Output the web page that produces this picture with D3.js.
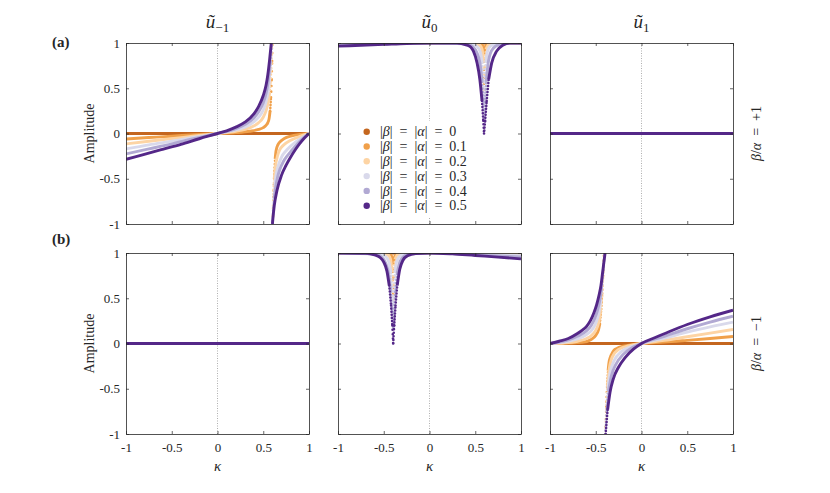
<!DOCTYPE html>
<html>
<head>
<meta charset="utf-8">
<script src="https://cdn.jsdelivr.net/npm/d3@7"></script>
<style>
  body { margin: 0; background: #fff; }
</style>
</head>
<body>
<svg id="chart" width="830" height="493"></svg>
<script>
// |beta| = |alpha| values, one series each
const betas = [0, 0.1, 0.2, 0.3, 0.4, 0.5];
const colSubs = ["\u22121", "0", "1"];
const rowTags = ["(a)", "(b)"];
const rowRatios = ["+1", "\u22121"];
const tickVals = [-1, -0.5, 0, 0.5, 1];

// each series: list of branches, each branch a list of [kappa, amplitude]
const aUm1 = [
  [[[-1, 0], [1, 0]]],
  [[[-1, -0.06], [-0.75, -0.045], [-0.5, -0.03], [-0.25, -0.014], [0, 0], [0.2, 0.01], [0.35, 0.025], [0.45, 0.045], [0.5, 0.065], [0.53, 0.09], [0.55, 0.12], [0.565, 0.17], [0.575, 0.25], [0.585, 0.4], [0.592, 0.6], [0.597, 0.8], [0.6, 1]],
   [[0.605, -1], [0.612, -0.7], [0.62, -0.45], [0.63, -0.28], [0.64, -0.19], [0.66, -0.125], [0.68, -0.095], [0.73, -0.055], [0.8, -0.028], [0.9, -0.01], [1, 0]]],
  [[[-1, -0.115], [-0.75, -0.085], [-0.5, -0.057], [-0.25, -0.028], [0, 0], [0.2, 0.025], [0.3, 0.045], [0.4, 0.085], [0.45, 0.12], [0.5, 0.18], [0.53, 0.25], [0.555, 0.35], [0.57, 0.45], [0.58, 0.57], [0.588, 0.72], [0.594, 0.87], [0.598, 1]],
   [[0.602, -1], [0.607, -0.8], [0.613, -0.62], [0.62, -0.5], [0.635, -0.35], [0.655, -0.25], [0.68, -0.18], [0.72, -0.13], [0.8, -0.075], [0.9, -0.032], [1, 0]]],
  [[[-1, -0.17], [-0.75, -0.125], [-0.5, -0.085], [-0.25, -0.042], [0, 0], [0.2, 0.04], [0.3, 0.07], [0.4, 0.13], [0.45, 0.18], [0.5, 0.26], [0.53, 0.35], [0.555, 0.47], [0.57, 0.6], [0.58, 0.72], [0.588, 0.85], [0.596, 1]],
   [[0.601, -1], [0.607, -0.85], [0.615, -0.7], [0.625, -0.58], [0.64, -0.46], [0.66, -0.37], [0.7, -0.26], [0.75, -0.19], [0.8, -0.14], [0.9, -0.06], [1, 0]]],
  [[[-1, -0.225], [-0.75, -0.17], [-0.5, -0.115], [-0.25, -0.055], [0, 0], [0.2, 0.055], [0.3, 0.1], [0.4, 0.175], [0.45, 0.24], [0.5, 0.34], [0.53, 0.44], [0.55, 0.55], [0.565, 0.67], [0.578, 0.8], [0.585, 0.9], [0.592, 1]],
   [[0.601, -1], [0.61, -0.85], [0.62, -0.72], [0.635, -0.6], [0.655, -0.49], [0.68, -0.4], [0.72, -0.31], [0.76, -0.25], [0.8, -0.2], [0.9, -0.085], [1, 0]]],
  [[[-1, -0.285], [-0.8, -0.23], [-0.6, -0.175], [-0.4, -0.12], [-0.2, -0.058], [0, 0], [0.1, 0.03], [0.2, 0.07], [0.3, 0.125], [0.4, 0.22], [0.45, 0.3], [0.5, 0.42], [0.53, 0.53], [0.55, 0.65], [0.57, 0.82], [0.588, 1]],
   [[0.6, -1], [0.62, -0.8], [0.65, -0.63], [0.7, -0.46], [0.75, -0.35], [0.8, -0.26], [0.85, -0.18], [0.9, -0.11], [0.95, -0.05], [1, 0]]]
];

const aU0 = [
  [[[-1, 1], [1, 1]]],
  [[[-1, 1], [0.5, 1], [0.56, 0.99], [0.583, 0.965], [0.592, 0.88], [0.597, 0.55], [0.602, 0.88], [0.611, 0.965], [0.64, 0.99], [0.7, 1], [1, 1]]],
  [[[-1, 0.995], [0, 1], [0.5, 0.995], [0.55, 0.975], [0.575, 0.93], [0.588, 0.8], [0.597, 0.48], [0.605, 0.8], [0.617, 0.93], [0.645, 0.98], [0.7, 0.995], [0.8, 1], [1, 1]]],
  [[[-1, 0.985], [-0.5, 0.995], [0, 1], [0.45, 0.99], [0.52, 0.96], [0.556, 0.9], [0.577, 0.78], [0.589, 0.58], [0.597, 0.33], [0.604, 0.58], [0.614, 0.78], [0.632, 0.9], [0.67, 0.97], [0.75, 0.995], [0.85, 1], [1, 1]]],
  [[[-1, 0.975], [-0.5, 0.99], [0, 1], [0.4, 0.99], [0.47, 0.96], [0.52, 0.89], [0.553, 0.77], [0.575, 0.57], [0.588, 0.35], [0.597, 0.18], [0.606, 0.35], [0.62, 0.57], [0.64, 0.77], [0.675, 0.91], [0.73, 0.97], [0.8, 0.995], [0.9, 1], [1, 1]]],
  [[[-1, 0.965], [-0.75, 0.975], [-0.5, 0.985], [-0.25, 0.995], [0, 1], [0.3, 1], [0.4, 0.98], [0.45, 0.955], [0.48, 0.91], [0.52, 0.78], [0.55, 0.6], [0.574, 0.36], [0.588, 0.14], [0.596, 0], [0.608, 0.14], [0.625, 0.36], [0.647, 0.6], [0.68, 0.78], [0.734, 0.91], [0.8, 0.975], [0.88, 1], [1, 1]]]
];

const aUp1 = betas.map(() => [[[-1, 0], [1, 0]]]);
const bUm1 = betas.map(() => [[[-1, 0], [1, 0]]]);

const bU0 = [
  [[[-1, 1], [1, 1]]],
  [[[-1, 1], [-0.5, 1], [-0.44, 0.99], [-0.414, 0.965], [-0.403, 0.88], [-0.397, 0.55], [-0.391, 0.88], [-0.38, 0.965], [-0.35, 0.99], [-0.3, 1], [0, 1], [0.3, 0.999], [0.6, 0.997], [1, 0.995]]],
  [[[-1, 1], [-0.5, 0.995], [-0.45, 0.975], [-0.425, 0.93], [-0.41, 0.8], [-0.397, 0.48], [-0.389, 0.8], [-0.377, 0.93], [-0.35, 0.98], [-0.29, 0.995], [-0.2, 1], [0.1, 1], [0.4, 0.996], [0.7, 0.99], [1, 0.985]]],
  [[[-1, 1], [-0.55, 0.99], [-0.48, 0.96], [-0.444, 0.9], [-0.422, 0.78], [-0.408, 0.58], [-0.397, 0.33], [-0.388, 0.58], [-0.378, 0.78], [-0.36, 0.9], [-0.32, 0.97], [-0.25, 0.995], [-0.1, 1], [0.1, 1], [0.4, 0.992], [0.7, 0.982], [1, 0.97]]],
  [[[-1, 1], [-0.6, 0.99], [-0.53, 0.96], [-0.48, 0.89], [-0.447, 0.77], [-0.424, 0.57], [-0.409, 0.35], [-0.397, 0.18], [-0.387, 0.35], [-0.374, 0.57], [-0.355, 0.77], [-0.32, 0.91], [-0.27, 0.97], [-0.2, 0.995], [0, 1], [0.25, 0.993], [0.5, 0.98], [0.75, 0.968], [1, 0.955]]],
  [[[-1, 1], [-0.7, 0.997], [-0.6, 0.98], [-0.54, 0.95], [-0.5, 0.9], [-0.465, 0.8], [-0.44, 0.64], [-0.42, 0.42], [-0.406, 0.2], [-0.397, 0], [-0.386, 0.2], [-0.371, 0.42], [-0.353, 0.64], [-0.325, 0.82], [-0.29, 0.92], [-0.24, 0.97], [-0.15, 0.995], [0, 1], [0.25, 0.99], [0.5, 0.972], [0.75, 0.955], [1, 0.935]]]
];

const bUp1 = [
  [[[-1, 0], [1, 0]]],
  [[[-1, 0], [-0.8, 0.004], [-0.65, 0.012], [-0.55, 0.045], [-0.5, 0.09], [-0.47, 0.15], [-0.455, 0.22], [-0.44, 0.38], [-0.43, 0.55], [-0.42, 0.75], [-0.41, 1]],
   [[-0.393, -1], [-0.385, -0.7], [-0.375, -0.45], [-0.365, -0.3], [-0.355, -0.21], [-0.34, -0.15], [-0.326, -0.118], [-0.3, -0.075], [-0.27, -0.055], [-0.2, -0.03], [-0.1, -0.012], [0, 0], [0.25, 0.015], [0.5, 0.035], [0.75, 0.056], [1, 0.078]]],
  [[[-1, 0], [-0.85, 0.006], [-0.7, 0.025], [-0.6, 0.055], [-0.55, 0.085], [-0.51, 0.13], [-0.48, 0.19], [-0.46, 0.27], [-0.445, 0.38], [-0.432, 0.52], [-0.422, 0.7], [-0.413, 0.88], [-0.407, 1]],
   [[-0.394, -1], [-0.385, -0.72], [-0.373, -0.48], [-0.355, -0.3], [-0.32, -0.15], [-0.25, -0.065], [-0.12, -0.02], [0, 0], [0.25, 0.035], [0.5, 0.075], [0.75, 0.115], [1, 0.155]]],
  [[[-1, 0], [-0.9, 0.01], [-0.8, 0.025], [-0.7, 0.05], [-0.6, 0.1], [-0.55, 0.14], [-0.51, 0.2], [-0.48, 0.28], [-0.46, 0.37], [-0.445, 0.48], [-0.43, 0.65], [-0.418, 0.82], [-0.405, 1]],
   [[-0.394, -1], [-0.382, -0.72], [-0.368, -0.5], [-0.345, -0.33], [-0.3, -0.19], [-0.22, -0.09], [-0.1, -0.03], [0, 0], [0.25, 0.06], [0.5, 0.125], [0.75, 0.183], [1, 0.236]]],
  [[[-1, 0], [-0.9, 0.015], [-0.8, 0.04], [-0.7, 0.08], [-0.6, 0.14], [-0.55, 0.2], [-0.51, 0.28], [-0.48, 0.37], [-0.455, 0.48], [-0.435, 0.62], [-0.42, 0.78], [-0.408, 0.93], [-0.402, 1]],
   [[-0.393, -1], [-0.378, -0.72], [-0.36, -0.52], [-0.33, -0.36], [-0.28, -0.23], [-0.2, -0.12], [-0.1, -0.045], [0, 0], [0.25, 0.08], [0.5, 0.163], [0.75, 0.237], [1, 0.302]]],
  [[[-1, 0], [-0.9, 0.025], [-0.8, 0.055], [-0.7, 0.11], [-0.65, 0.145], [-0.6, 0.19], [-0.56, 0.25], [-0.52, 0.34], [-0.49, 0.43], [-0.465, 0.53], [-0.443, 0.64], [-0.425, 0.785], [-0.407, 0.93], [-0.398, 1]],
   [[-0.392, -1], [-0.37, -0.73], [-0.344, -0.54], [-0.308, -0.39], [-0.253, -0.265], [-0.179, -0.155], [-0.088, -0.063], [0, 0], [0.15, 0.066], [0.3, 0.13], [0.5, 0.21], [0.75, 0.295], [1, 0.368]]]
];

const panels = [[aUm1, aU0, aUp1], [bUm1, bU0, bUp1]];
const colors = ["#c4661f", "#f0a04a", "#fdd4a4", "#d9d9eb", "#b1a9d3", "#542788"];

const FONT = "Liberation Serif";
const INK = "#262626";
const EQ = "\u2002=\u2002";
const colX = [126, 338, 550], rowY = [43, 253];
const pw = 183, ph = 181;
const svg = d3.select("#chart").attr("font-family", FONT);
svg.append("rect").attr("width", 830).attr("height", 493).attr("fill", "#fff");

const x = d3.scaleLinear().domain([-1, 1]).range([0, pw]);
const y = d3.scaleLinear().domain([-1, 1]).range([ph, 0]);
const smooth = d3.line().curve(d3.curveMonotoneX);

function drawSeries(g, branches, color) {
  branches.forEach(br => {
    const pts = br.map(d => [x(d[0]), y(d[1])]);
    let run = [pts[0]];
    const flush = () => {
      if (run.length > 1) {
        g.append("path").attr("d", smooth(run)).attr("fill", "none")
          .attr("stroke", color).attr("stroke-width", 2.9).attr("stroke-linejoin", "round");
      }
    };
    for (let i = 1; i < pts.length; i++) {
      const dx = Math.abs(pts[i][0] - pts[i - 1][0]);
      const dy = Math.abs(pts[i][1] - pts[i - 1][1]);
      const slope = dy / Math.max(dx, 0.01);
      if (slope > 10) {
        // steep part: markers get spread apart like the sampled original
        flush();
        run = [pts[i]];
        const gap = Math.max(3, Math.min(8, 0.2 * slope));
        g.append("line")
          .attr("x1", pts[i - 1][0]).attr("y1", pts[i - 1][1])
          .attr("x2", pts[i][0]).attr("y2", pts[i][1])
          .attr("stroke", color).attr("stroke-width", 2.6)
          .attr("stroke-linecap", "round").attr("stroke-dasharray", `0 ${gap}`);
      } else {
        run.push(pts[i]);
      }
    }
    flush();
  });
}

function styleAxis(sel) {
  sel.attr("font-family", FONT).attr("font-size", 13);
  sel.select(".domain").attr("stroke", INK).attr("stroke-width", 0.8);
  sel.selectAll(".tick line").attr("stroke", INK).attr("stroke-width", 0.7);
  sel.selectAll(".tick text").attr("font-family", FONT).attr("font-size", 13).attr("fill", INK);
}

const fmt = d => String(d);

panels.forEach((row, r) => {
  row.forEach((series, c) => {
    const g = svg.append("g").attr("transform", `translate(${colX[c]},${rowY[r]})`);
    const clipId = `clip-${r}-${c}`;
    g.append("clipPath").attr("id", clipId)
      .append("rect").attr("width", pw).attr("height", ph);

    g.append("line").attr("x1", x(0)).attr("x2", x(0)).attr("y1", 0).attr("y2", ph)
      .attr("stroke", "#8c8c8c").attr("stroke-width", 0.7).attr("stroke-dasharray", "1,1.5");

    const plot = g.append("g").attr("clip-path", `url(#${clipId})`);
    series.forEach((branches, i) => drawSeries(plot, branches, colors[i]));

    g.append("g").attr("transform", `translate(0,${ph})`)
      .call(d3.axisBottom(x).tickValues(tickVals).tickSizeInner(-3).tickSizeOuter(0)
        .tickPadding(9).tickFormat(r === 1 ? fmt : () => ""))
      .call(styleAxis);
    g.append("g")
      .call(d3.axisTop(x).tickValues(tickVals).tickSizeInner(-3).tickSizeOuter(0).tickFormat(() => ""))
      .call(styleAxis);
    g.append("g")
      .call(d3.axisLeft(y).tickValues(tickVals).tickSizeInner(-3).tickSizeOuter(0)
        .tickPadding(6).tickFormat(c === 0 ? fmt : () => ""))
      .call(styleAxis);
    g.append("g").attr("transform", `translate(${pw},0)`)
      .call(d3.axisRight(y).tickValues(tickVals).tickSizeInner(-3).tickSizeOuter(0).tickFormat(() => ""))
      .call(styleAxis);

    if (r === 0 && c === 1) {
      // legend
      const lg = g.append("g");
      lg.append("rect").attr("x", 18).attr("y", 78).attr("width", 116).attr("height", 96).attr("fill", "#fff");
      betas.forEach((b, i) => {
        const cy = 88.7 + i * 14.8;
        lg.append("circle").attr("cx", 28.7).attr("cy", cy).attr("r", 3.2).attr("fill", colors[i]);
        const t = lg.append("text").attr("x", 42).attr("y", cy + 4.6).attr("font-size", 14).attr("fill", INK);
        t.append("tspan").text("|");
        t.append("tspan").attr("font-style", "italic").text("\u03b2");
        t.append("tspan").text("|" + EQ + "|");
        t.append("tspan").attr("font-style", "italic").text("\u03b1");
        t.append("tspan").text("|" + EQ + b);
      });
    }
  });
});

// column titles
colSubs.forEach((s, c) => {
  const t = svg.append("text").attr("x", colX[c] + pw / 2).attr("y", 28)
    .attr("text-anchor", "middle").attr("fill", INK);
  t.append("tspan").attr("font-style", "italic").attr("font-size", 19).text("\u0169");
  t.append("tspan").attr("font-size", 13).attr("dy", 4).text(s);
});

// x labels
colX.forEach(cx => {
  svg.append("text").attr("x", cx + pw / 2).attr("y", 471).attr("text-anchor", "middle")
    .attr("font-style", "italic").attr("font-size", 15).attr("fill", INK).text("\u03ba");
});

// row labels
rowY.forEach((ry, r) => {
  svg.append("text").attr("transform", `translate(94,${ry + ph / 2}) rotate(-90)`)
    .attr("text-anchor", "middle").attr("font-size", 14).attr("fill", INK).text("Amplitude");
  svg.append("text").attr("x", 52).attr("y", r === 0 ? 47 : 244).attr("fill", INK)
    .attr("font-weight", "bold").attr("font-size", 15).text(rowTags[r]);
  const t = svg.append("text").attr("transform", `translate(761,${ry + ph / 2}) rotate(-90)`)
    .attr("text-anchor", "middle").attr("font-size", 14).attr("fill", INK);
  t.append("tspan").attr("font-style", "italic").text("\u03b2");
  t.append("tspan").text("/");
  t.append("tspan").attr("font-style", "italic").text("\u03b1");
  t.append("tspan").text(EQ + rowRatios[r]);
});
</script>
</body>
</html>
